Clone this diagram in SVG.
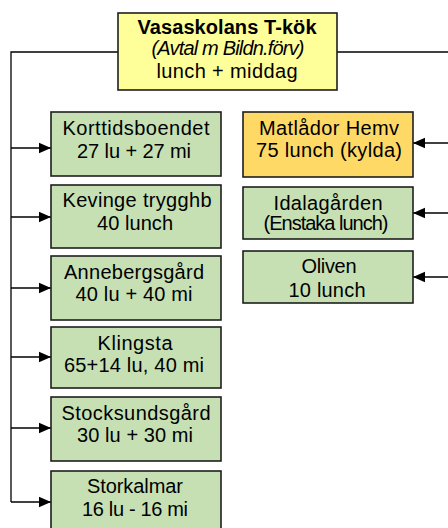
<svg xmlns="http://www.w3.org/2000/svg" width="448" height="528" viewBox="0 0 448 528">
<defs>
<marker id="arr" markerUnits="userSpaceOnUse" markerWidth="13" markerHeight="12" viewBox="0 0 13 12" refX="12" refY="6" orient="auto">
<path d="M0,0.8 L12,6 L0,11.2 Z" fill="#000"/>
</marker>
<style>
.box{stroke:#1e1e1e;stroke-width:1.6}
.g{fill:#C6E0B4}
.y{fill:#FFFF99}
.o{fill:#FFD966}
text{font-family:"Liberation Sans",Arial,sans-serif;font-size:20px;fill:#000;text-anchor:middle}
.c{fill:none;stroke:#000;stroke-width:1.3}
</style>
</defs>
<rect width="448" height="528" fill="#fff"/>
<g id="connectors">
<polyline class="c" points="118,52 11,52 11,502"/>
<line class="c" x1="337" y1="52" x2="448" y2="52"/>
<line class="c" x1="11" y1="148" x2="51" y2="148" marker-end="url(#arr)"/>
<line class="c" x1="11" y1="217" x2="51" y2="217" marker-end="url(#arr)"/>
<line class="c" x1="11" y1="288" x2="51" y2="288" marker-end="url(#arr)"/>
<line class="c" x1="11" y1="357" x2="51" y2="357" marker-end="url(#arr)"/>
<line class="c" x1="11" y1="428" x2="51" y2="428" marker-end="url(#arr)"/>
<line class="c" x1="11" y1="502" x2="51" y2="502" marker-end="url(#arr)"/>
<line class="c" x1="448" y1="143" x2="413" y2="143" marker-end="url(#arr)"/>
<line class="c" x1="448" y1="213" x2="413" y2="213" marker-end="url(#arr)"/>
<line class="c" x1="448" y1="277" x2="413" y2="277" marker-end="url(#arr)"/>
</g>
<g id="vasaskolan">
<rect class="box y" x="118" y="13" width="219" height="77" stroke-width="2"/>
<text x="227" y="34" font-weight="bold" font-size="16.5" textLength="179" lengthAdjust="spacing">Vasaskolans T-kök</text>
<text x="228" y="54.5" font-style="italic" font-size="14.5" textLength="153" lengthAdjust="spacing">(Avtal m Bildn.förv)</text>
<text x="227" y="78" font-size="19.5" textLength="141" lengthAdjust="spacing">lunch + middag</text>
</g>
<g id="korttidsboendet">
<rect class="box g" x="51" y="112" width="170" height="64"/>
<text x="136" y="134.5" textLength="147" lengthAdjust="spacing">Korttidsboendet</text>
<text x="134" y="157.5" textLength="114" lengthAdjust="spacing">27 lu + 27 mi</text>
</g>
<g id="kevinge">
<rect class="box g" x="51" y="185" width="170" height="63"/>
<text x="137" y="207" textLength="149" lengthAdjust="spacing">Kevinge trygghb</text>
<text x="135" y="230" textLength="76" lengthAdjust="spacing">40 lunch</text>
</g>
<g id="annebergsgard">
<rect class="box g" x="51" y="256" width="170" height="64"/>
<text x="134" y="278.5" textLength="140" lengthAdjust="spacing">Annebergsgård</text>
<text x="134" y="301" textLength="117" lengthAdjust="spacing">40 lu + 40 mi</text>
</g>
<g id="klingsta">
<rect class="box g" x="51" y="327" width="170" height="61"/>
<text x="135" y="350" textLength="75" lengthAdjust="spacing">Klingsta</text>
<text x="134" y="372" textLength="140" lengthAdjust="spacing">65+14 lu, 40 mi</text>
</g>
<g id="stocksundsgard">
<rect class="box g" x="51" y="397" width="170" height="64"/>
<text x="136" y="419.5" textLength="149" lengthAdjust="spacing">Stocksundsgård</text>
<text x="135" y="442" textLength="116" lengthAdjust="spacing">30 lu + 30 mi</text>
</g>
<g id="storkalmar">
<rect class="box g" x="51" y="471" width="170" height="64"/>
<text x="135" y="493" textLength="96" lengthAdjust="spacing">Storkalmar</text>
<text x="135" y="516" textLength="106" lengthAdjust="spacing">16 lu - 16 mi</text>
</g>
<g id="matlador">
<rect class="box o" x="243" y="112" width="170" height="65"/>
<text x="329" y="135" textLength="140" lengthAdjust="spacing">Matlådor Hemv</text>
<text x="329" y="157" textLength="146" lengthAdjust="spacing">75 lunch (kylda)</text>
</g>
<g id="idalagarden">
<rect class="box g" x="243" y="187" width="170" height="52"/>
<text x="328" y="210" textLength="109" lengthAdjust="spacing">Idalagården</text>
<text x="326" y="230" font-size="16.5" textLength="125" lengthAdjust="spacing">(Enstaka lunch)</text>
</g>
<g id="oliven">
<rect class="box g" x="243" y="251" width="170" height="52"/>
<text x="329" y="273" textLength="55" lengthAdjust="spacing">Oliven</text>
<text x="327" y="297" textLength="77" lengthAdjust="spacing">10 lunch</text>
</g>
</svg>
